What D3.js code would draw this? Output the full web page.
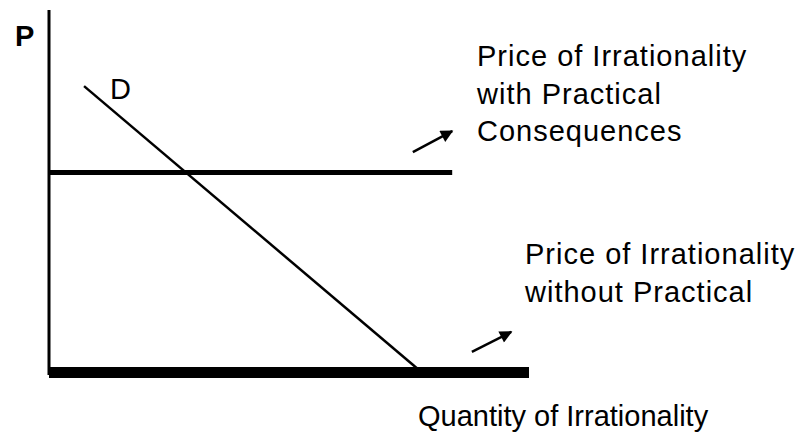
<!DOCTYPE html>
<html>
<head>
<meta charset="utf-8">
<script src="https://cdn.jsdelivr.net/npm/d3@7"></script>
<style>
  body { margin: 0; background: #fff; }
  text { font-family: "Liberation Sans", Arial, sans-serif; fill: #000; }
</style>
</head>
<body>
<div id="chart"></div>
<script>
// demand curve, in chart units (quantity 0-100, price 0-100)
const demandQ = [7.3, 77.7]
const demandP = [79, 0]

// price lines: [price, quantity where line ends]
const priceLevels = [55.2, 0]
const priceEnds = [84, 100]

// arrows pointing at the price lines' labels
const arrowFromQ = [75.8, 88.1]
const arrowFromP = [60.8, 5.7]
const arrowToQ = [84, 96.3]
const arrowToP = [66.6, 11.2]

const labelLines = [
  ["Price of Irrationality", "with Practical", "Consequences"],
  ["Price of Irrationality", "without Practical"]
]

const svg = d3.select("#chart")
  .append("svg")
  .attr("width", 804)
  .attr("height", 441)

const x = d3.scaleLinear().domain([0, 100]).range([49, 529])
const y = d3.scaleLinear().domain([0, 100]).range([372.5, 10])

svg.append("defs")
  .append("marker")
  .attr("id", "head")
  .attr("viewBox", "0 0 10 10")
  .attr("refX", 9)
  .attr("refY", 5)
  .attr("markerWidth", 5.5)
  .attr("markerHeight", 5)
  .attr("markerUnits", "strokeWidth")
  .attr("orient", "auto")
  .append("path")
  .attr("d", "M0,0 L10,5 L0,10 z")
  .attr("fill", "#000")

// vertical (price) axis
svg.append("line")
  .attr("x1", x(0)).attr("x2", x(0))
  .attr("y1", y(100)).attr("y2", y(-0.7))
  .attr("stroke", "#000")
  .attr("stroke-width", 3)

// price lines
svg.selectAll(".price")
  .data(priceLevels)
  .enter()
  .append("line")
  .attr("class", "price")
  .attr("x1", x(0))
  .attr("x2", (d, i) => x(priceEnds[i]))
  .attr("y1", d => y(d))
  .attr("y2", d => y(d))
  .attr("stroke", "#000")
  .attr("stroke-width", (d, i) => i === 0 ? 5 : 11)

// demand
svg.append("path")
  .datum(demandQ.map((q, i) => [q, demandP[i]]))
  .attr("d", d3.line().x(d => x(d[0])).y(d => y(d[1])))
  .attr("fill", "none")
  .attr("stroke", "#000")
  .attr("stroke-width", 2.5)

// arrows
svg.selectAll(".arrow")
  .data(arrowFromQ)
  .enter()
  .append("line")
  .attr("class", "arrow")
  .attr("x1", d => x(d))
  .attr("y1", (d, i) => y(arrowFromP[i]))
  .attr("x2", (d, i) => x(arrowToQ[i]))
  .attr("y2", (d, i) => y(arrowToP[i]))
  .attr("stroke", "#000")
  .attr("stroke-width", 2.5)
  .attr("marker-end", "url(#head)")

// labels
svg.append("text")
  .attr("x", 15).attr("y", 46)
  .attr("font-size", 29)
  .attr("font-weight", "bold")
  .text("P")

svg.append("text")
  .attr("x", 110).attr("y", 99)
  .attr("font-size", 29)
  .text("D")

const labelPos = [[477, 66], [525, 264]]
labelLines.forEach((lines, i) => {
  const t = svg.append("text")
    .attr("font-size", 29)
    .attr("letter-spacing", 1)
  lines.forEach((s, j) => {
    t.append("tspan")
      .attr("x", labelPos[i][0])
      .attr("y", labelPos[i][1] + j * 37.5)
      .text(s)
  })
})

svg.append("text")
  .attr("x", 418).attr("y", 426)
  .attr("font-size", 29)
  .text("Quantity of Irrationality")
</script>
</body>
</html>
